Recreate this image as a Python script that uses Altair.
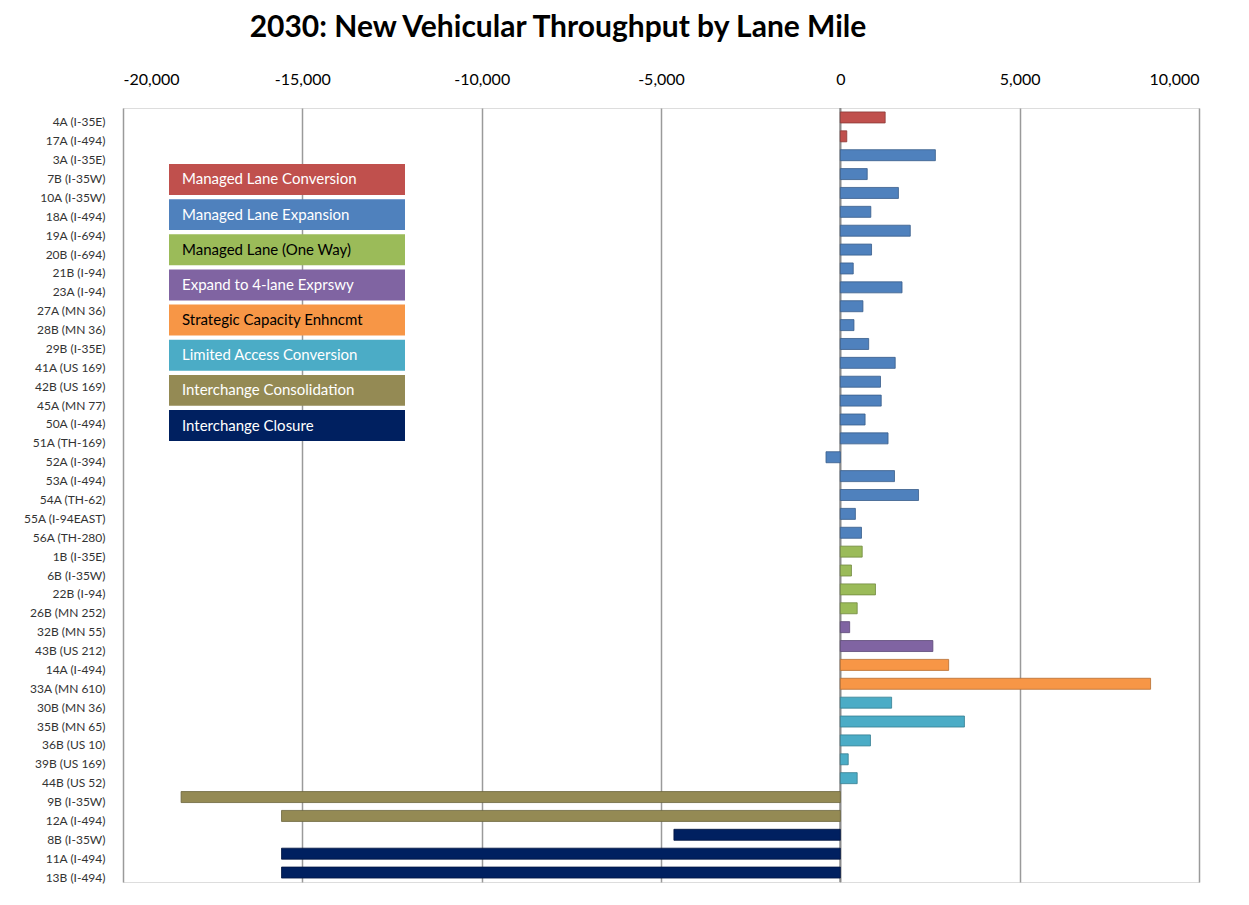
import altair as alt
import pandas as pd

categories = [
    "4A (I-35E)", "17A (I-494)", "3A (I-35E)", "7B (I-35W)", "10A (I-35W)", "18A (I-494)",
    "19A (I-694)", "20B (I-694)", "21B (I-94)", "23A (I-94)", "27A (MN 36)", "28B (MN 36)",
    "29B (I-35E)", "41A (US 169)", "42B (US 169)", "45A (MN 77)", "50A (I-494)", "51A (TH-169)",
    "52A (I-394)", "53A (I-494)", "54A (TH-62)", "55A (I-94EAST)", "56A (TH-280)", "1B (I-35E)",
    "6B (I-35W)", "22B (I-94)", "26B (MN 252)", "32B (MN 55)", "43B (US 212)", "14A (I-494)",
    "33A (MN 610)", "30B (MN 36)", "35B (MN 65)", "36B (US 10)", "39B (US 169)", "44B (US 52)",
    "9B (I-35W)", "12A (I-494)", "8B (I-35W)", "11A (I-494)", "13B (I-494)",
]
values = [
    1250, 180, 2650, 750, 1620, 850,
    1950, 870, 360, 1720, 630, 380,
    790, 1530, 1120, 1140, 690, 1330,
    -400, 1510, 2180, 420, 590, 610,
    310, 980, 470, 260, 2580, 3020,
    8650, 1430, 3460, 840, 220, 470,
    -18380, -15580, -4640, -15580, -15580,
]
groups = (
    ["Managed Lane Conversion"] * 2
    + ["Managed Lane Expansion"] * 21
    + ["Managed Lane (One Way)"] * 4
    + ["Expand to 4-lane Exprswy"] * 2
    + ["Strategic Capacity Enhncmt"] * 2
    + ["Limited Access Conversion"] * 5
    + ["Interchange Consolidation"] * 2
    + ["Interchange Closure"] * 3
)

legend_names = [
    "Managed Lane Conversion", "Managed Lane Expansion", "Managed Lane (One Way)",
    "Expand to 4-lane Exprswy", "Strategic Capacity Enhncmt", "Limited Access Conversion",
    "Interchange Consolidation", "Interchange Closure",
]
legend_colors = ["#C0504D", "#4F81BD", "#9BBB59", "#8064A2", "#F79646", "#4BACC6", "#948A54", "#002060"]
legend_strokes = ["#8C3836", "#385D8A", "#71893F", "#5C4776", "#B66D31", "#357D91", "#6B643C", "#001440"]
legend_text_colors = ["white", "white", "black", "white", "black", "white", "white", "white"]
x_ticks = [-20000, -15000, -10000, -5000, 0, 5000, 10000]

df = pd.DataFrame({"Project": categories, "Value": values, "Group": groups})
leg = pd.DataFrame({"Legend": legend_names, "TextColor": legend_text_colors})

FONT = "Lato"
W, H = 1076, 774

xscale = alt.Scale(domain=[-20000, 10000], nice=False, zero=False)

bars = alt.Chart(df).mark_bar(size=11, strokeWidth=0.8).encode(
    x=alt.X("Value:Q", scale=xscale,
            axis=alt.Axis(orient="top", values=x_ticks, title=None,
                          labelExpr="(datum.value < 0 ? '-' : '') + format(abs(datum.value), ',.0f')",
                          grid=True, gridColor="#9a9a9a", gridWidth=1.5,
                          ticks=False, domain=False, labelFontSize=16,
                          labelColor="#000000", labelPadding=21, labelFont=FONT)),
    y=alt.Y("Project:N", sort=categories, scale=alt.Scale(paddingInner=0.0, paddingOuter=0.0),
            axis=alt.Axis(title=None, ticks=False, domain=False, labelFontSize=12,
                          labelColor="#333333", labelPadding=18, labelOffset=5, labelFont=FONT)),
    color=alt.Color("Group:N", scale=alt.Scale(domain=legend_names, range=legend_colors), legend=None),
    stroke=alt.Stroke("Group:N", scale=alt.Scale(domain=legend_names, range=legend_strokes), legend=None),
)

zero_rule = alt.Chart(pd.DataFrame({"z": [0]})).mark_rule(color="#8a8a8a", strokeWidth=2).encode(
    x=alt.X("z:Q", scale=xscale)
)

main = alt.layer(zero_rule, bars)

leg_y = alt.Y("Legend:N", sort=legend_names,
              scale=alt.Scale(range=[56, 333], paddingInner=0.12, paddingOuter=0.0),
              axis=None)

leg_rect = alt.Chart(leg).mark_rect().encode(
    x=alt.value(46), x2=alt.value(282),
    y=leg_y,
    color=alt.Color("Legend:N", scale=alt.Scale(domain=legend_names, range=legend_colors), legend=None),
)
leg_text = alt.Chart(leg).mark_text(align="left", baseline="middle", fontSize=15, font=FONT).encode(
    x=alt.value(59),
    y=leg_y,
    text="Legend:N",
    color=alt.Color("TextColor:N", scale=None),
)
legend = alt.layer(leg_rect, leg_text)

chart = alt.layer(main, legend).resolve_scale(y="independent", color="independent").properties(
    width=W, height=H,
    autosize=alt.AutoSizeParams(type="none"),
    padding={"left": 115, "top": 100, "right": 30, "bottom": 15},
    title=alt.TitleParams("2030: New Vehicular Throughput by Lane Mile", font=FONT, fontSize=30,
                          fontWeight="bold", color="#000000", anchor="middle", dx=-103, offset=28),
).configure_view(stroke="#a0a0a0", strokeWidth=1.5).configure(background="white")

chart.save("out.html", embed_options={"renderer": "svg", "actions": False})
